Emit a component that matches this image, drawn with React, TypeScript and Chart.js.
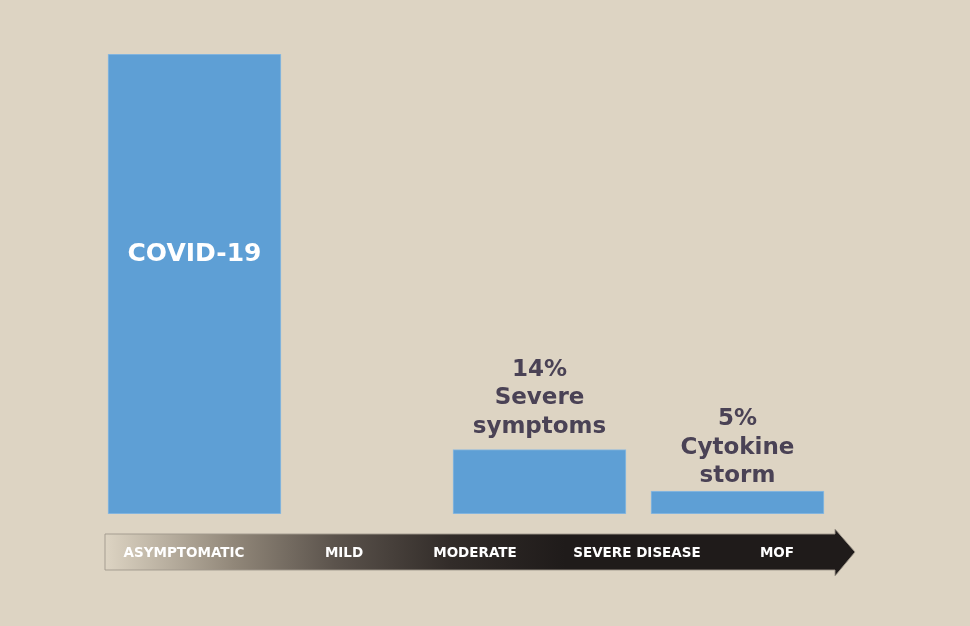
import React, { useEffect, useRef } from "react";
import { Chart, registerables } from "chart.js";

Chart.register(...registerables);

// ---- data ----
const barNames: string[] = ["COVID-19", "Severe symptoms", "Cytokine storm"];
const barValues: number[] = [100, 14, 5]; // percent of cases
const barPositions: number[] = [11.93, 57.93, 84.33]; // position along the disease progression (0-100)
const barLabels: string[][] = [["COVID-19"], ["14%", "Severe", "symptoms"], ["5%", "Cytokine", "storm"]];

const stageLabels: string[] = ["ASYMPTOMATIC", "MILD", "MODERATE", "SEVERE DISEASE", "MOF"];
const stagePositions: number[] = [10.53, 31.87, 49.33, 70.93, 89.6];

// ---- styles ----
const BG = "#ddd4c3";
const BAR_COLOR = "#5e9fd5";
const LABEL_COLOR = "#4a4255";
const FONT = "'DejaVu Sans', sans-serif";
const labelGaps: (number | null)[] = [null, 17, 9];

const overlayPlugin = {
  id: "overlay",
  beforeDraw(chart: any) {
    const { ctx, width, height } = chart;
    ctx.save();
    ctx.fillStyle = BG;
    ctx.fillRect(0, 0, width, height);
    ctx.restore();
  },
  afterDatasetsDraw(chart: any) {
    const { ctx, chartArea } = chart;
    const xScale = chart.scales.x;
    const meta = chart.getDatasetMeta(0);

    // bar labels
    ctx.save();
    ctx.textAlign = "center";
    ctx.textBaseline = "alphabetic";
    meta.data.forEach((bar: any, i: number) => {
      const lines = barLabels[i];
      const gap = labelGaps[i];
      if (gap === null) {
        ctx.fillStyle = "#ffffff";
        ctx.font = `bold 25px ${FONT}`;
        ctx.fillText(lines[0], bar.x, bar.y + 207);
      } else {
        ctx.fillStyle = LABEL_COLOR;
        ctx.font = `bold 23px ${FONT}`;
        const lh = 28.3;
        const lastBase = bar.y - gap;
        lines.forEach((t, j) => {
          ctx.fillText(t, bar.x, lastBase - (lines.length - 1 - j) * lh);
        });
      }
    });
    ctx.restore();

    // progression arrow
    const left = chartArea.left;
    const right = chartArea.right;
    const bodyTop = chartArea.bottom + 20;
    const bodyBot = chartArea.bottom + 56;
    const headTop = chartArea.bottom + 15;
    const headBot = chartArea.bottom + 62;
    const headStart = right - 20;
    const midY = (bodyTop + bodyBot) / 2;

    ctx.save();
    const grad = ctx.createLinearGradient(left, 0, left + 460, 0);
    grad.addColorStop(0, "#ddd4c3");
    grad.addColorStop(0.28, "#918779");
    grad.addColorStop(0.5, "#5b534c");
    grad.addColorStop(0.75, "#322c29");
    grad.addColorStop(1, "#1f1b1a");
    ctx.beginPath();
    ctx.moveTo(left, bodyTop);
    ctx.lineTo(headStart, bodyTop);
    ctx.lineTo(headStart, headTop);
    ctx.lineTo(right, midY);
    ctx.lineTo(headStart, headBot);
    ctx.lineTo(headStart, bodyBot);
    ctx.lineTo(left, bodyBot);
    ctx.closePath();
    ctx.fillStyle = grad;
    ctx.fill();
    ctx.lineWidth = 1;
    ctx.strokeStyle = "rgba(160,152,140,0.9)";
    ctx.stroke();

    ctx.fillStyle = "#ffffff";
    ctx.font = `bold 13.5px ${FONT}`;
    ctx.textAlign = "center";
    ctx.textBaseline = "middle";
    stageLabels.forEach((t, i) => {
      ctx.fillText(t, xScale.getPixelForValue(stagePositions[i]), midY + 1);
    });
    ctx.restore();
  },
};

export default function App() {
  const ref = useRef<HTMLCanvasElement | null>(null);

  useEffect(() => {
    if (!ref.current) return;
    const chart = new Chart(ref.current, {
      type: "bar",
      data: {
        datasets: [
          {
            label: "Share of cases",
            data: barPositions.map((x, i) => ({ x, y: barValues[i] })) as any,
            backgroundColor: BAR_COLOR,
            borderColor: "#8fbbe0",
            borderWidth: 1,
            borderSkipped: false,
            barThickness: 173,
          },
        ],
      },
      options: {
        animation: false,
        responsive: true,
        maintainAspectRatio: false,
        layout: { padding: { left: 105, right: 115, top: 54, bottom: 112 } },
        plugins: {
          legend: { display: false },
          tooltip: { enabled: false },
        },
        scales: {
          x: { type: "linear", min: 0, max: 100, offset: false, display: false },
          y: { min: 0, max: 100, display: false },
        },
      },
      plugins: [overlayPlugin],
    });
    return () => chart.destroy();
  }, []);

  return (
    <div style={{ position: "absolute", left: 0, top: 0, width: 970, height: 626, background: BG }}>
      <canvas ref={ref} />
    </div>
  );
}
